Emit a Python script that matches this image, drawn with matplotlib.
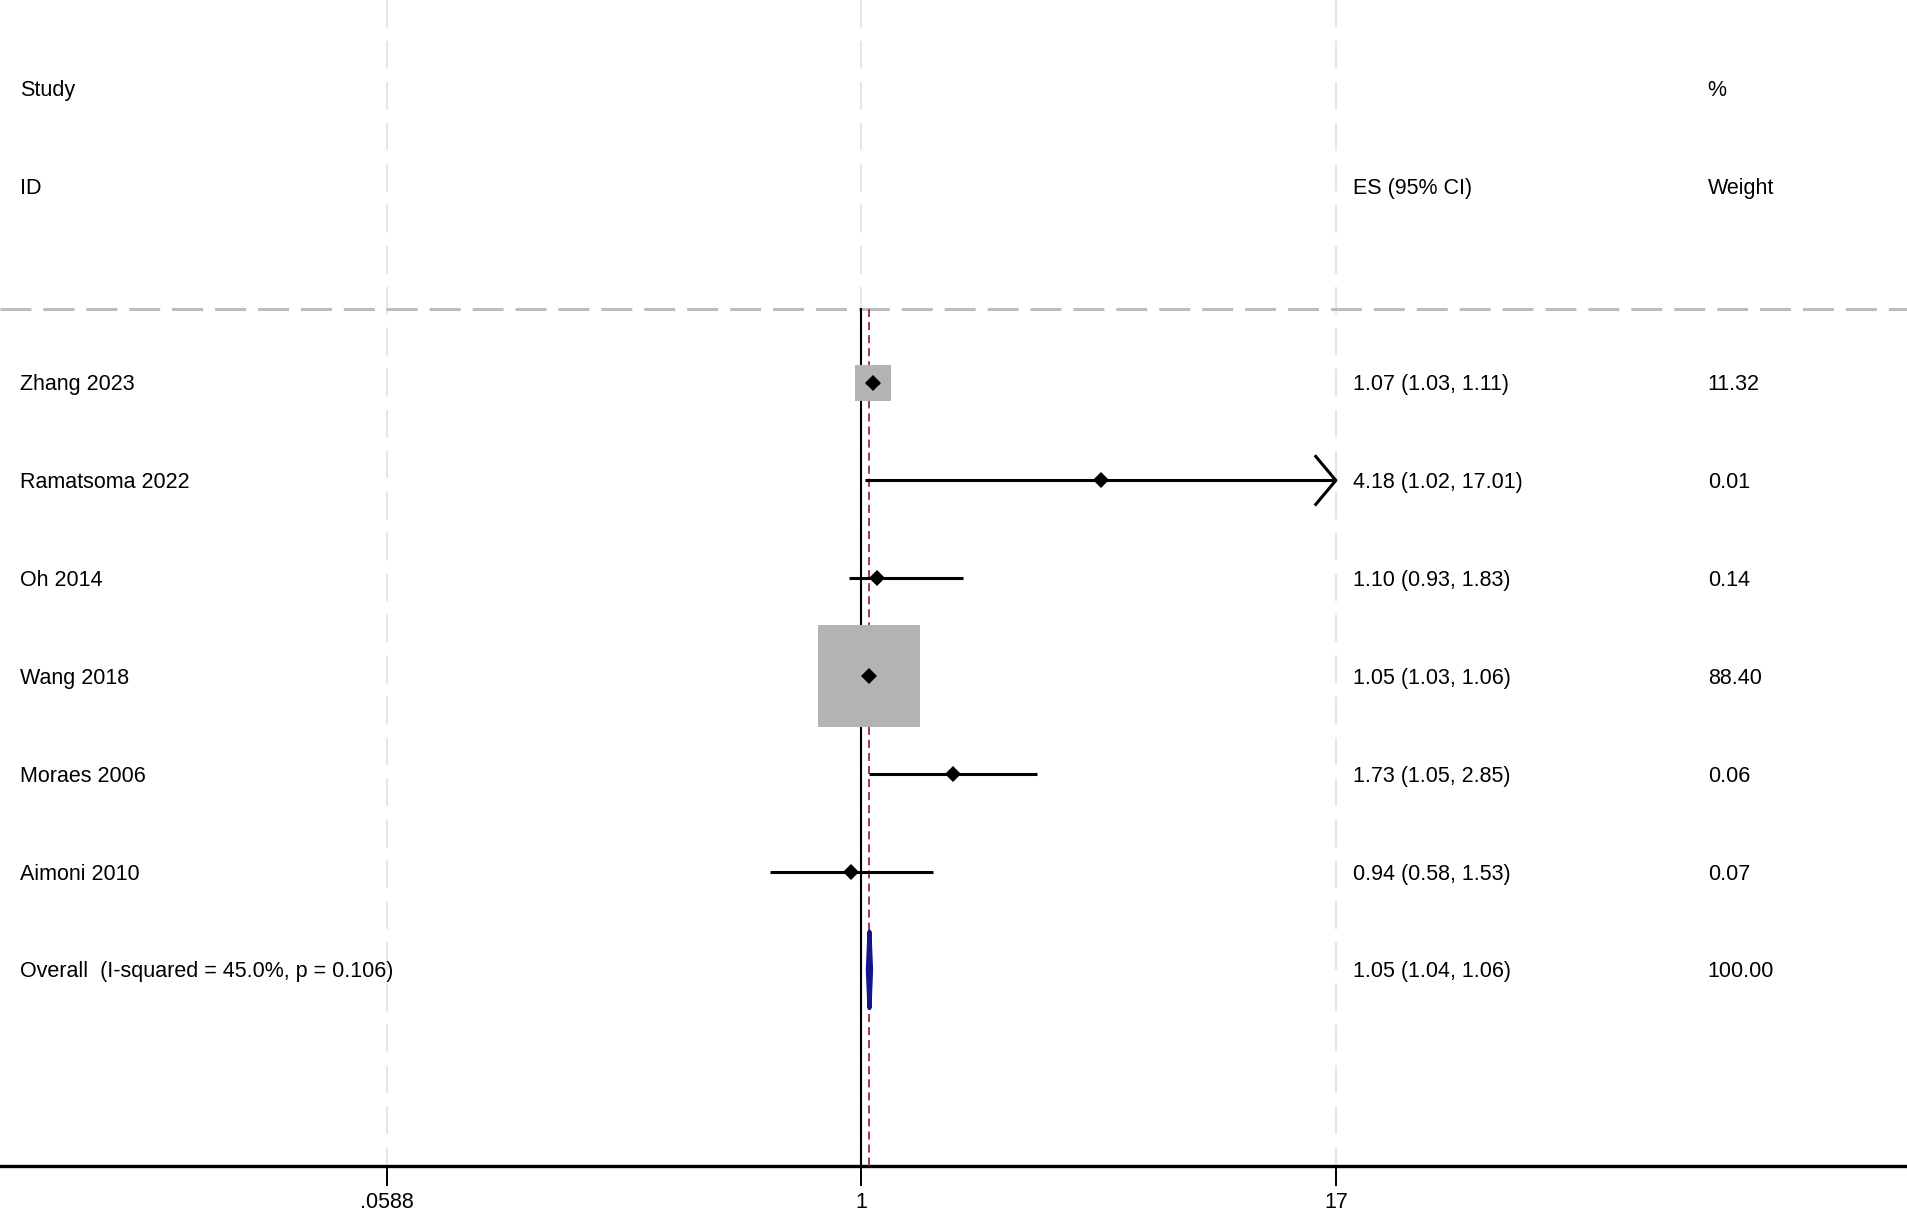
import numpy as np
import matplotlib.pyplot as plt
from matplotlib.ticker import FixedLocator, NullLocator

# --- Data ---
studies = ['Zhang 2023', 'Ramatsoma 2022', 'Oh 2014', 'Wang 2018', 'Moraes 2006', 'Aimoni 2010']
es = [1.07, 4.18, 1.10, 1.05, 1.73, 0.94]
ci_low = [1.03, 1.02, 0.93, 1.03, 1.05, 0.58]
ci_high = [1.11, 17.01, 1.83, 1.06, 2.85, 1.53]
weights = [11.32, 0.01, 0.14, 88.40, 0.06, 0.07]

overall_es, overall_lo, overall_hi = 1.05, 1.04, 1.06
overall_weight = 100.00
overall_label = 'Overall  (I-squared = 45.0%, p = 0.106)'

tick_values = [0.0588, 1, 17]
tick_labels = ['.0588', '1', '17']

# --- Style ---
plt.rcParams['font.family'] = ['Liberation Sans', 'DejaVu Sans']
plt.rcParams['lines.scale_dashes'] = False
fs = 15.5
cap = 0.077          # half cap-height in row units (baseline offset)
col_id, col_es, col_wt = 0.0105, 0.709, 0.895

fig = plt.figure(figsize=(19.08, 12.14), dpi=100)
ax = fig.add_axes([0, 0, 1, 1])
ax.set_xscale('log')
ax.set_xlim(np.exp(-5.142), np.exp(6.249))
ax.set_ylim(8.493, -3.907)
axis_row = 8.0
line_row = -0.75
top = -3.907

# light dashed grid at the tick values
for t in tick_values:
    ax.plot([t, t], [top, axis_row], color='#e6e6e6', lw=1.5, dashes=(20, 9.5), zorder=1)

# header separator
ax.plot(ax.get_xlim(), [line_row, line_row], color='#bdbdbd', lw=2.2, dashes=(22.3, 8.6), zorder=2)

# null line and overall line
ax.plot([1, 1], [line_row, axis_row], color='black', lw=1.5, zorder=3)
ax.plot([overall_es, overall_es], [line_row, axis_row], color='#9e3c4c', lw=1.4,
        dashes=(5.8, 3.6), zorder=3)

# study rows
clip = 17
tr = ax.get_yaxis_transform()
for i, name in enumerate(studies):
    ax.plot(es[i], i, marker='s', ms=7.75 * np.sqrt(weights[i]), color='#b3b3b3',
            mew=0, zorder=4)
    hi = min(ci_high[i], clip)
    ax.plot([ci_low[i], hi], [i, i], color='black', lw=2.2, zorder=5, solid_capstyle='butt')
    if ci_high[i] > clip:
        ax.plot([clip * np.exp(-0.12), clip, clip * np.exp(-0.12)], [i - 0.245, i, i + 0.245],
                color='black', lw=2.2, zorder=5)
    ax.plot(es[i], i, marker='D', ms=8, color='black', mew=0, zorder=6)
    ax.text(col_id, i + cap, name, transform=tr, fontsize=fs, va='baseline')
    ax.text(col_es, i + cap, '%.2f (%.2f, %.2f)' % (es[i], ci_low[i], ci_high[i]),
            transform=tr, fontsize=fs, va='baseline')
    ax.text(col_wt, i + cap, '%.2f' % weights[i], transform=tr, fontsize=fs, va='baseline')

# overall diamond
r = len(studies)
ax.fill([overall_lo, overall_es, overall_hi, overall_es], [r, r - 0.39, r, r + 0.39],
        facecolor='#14148c', edgecolor='#14148c', lw=3.0, joinstyle='round', zorder=6)
ax.text(col_id, r + cap, overall_label, transform=tr, fontsize=fs, va='baseline')
ax.text(col_es, r + cap, '%.2f (%.2f, %.2f)' % (overall_es, overall_lo, overall_hi),
        transform=tr, fontsize=fs, va='baseline')
ax.text(col_wt, r + cap, '%.2f' % overall_weight, transform=tr, fontsize=fs, va='baseline')

# headers
ax.text(col_id, -3 + cap, 'Study', transform=tr, fontsize=fs, va='baseline')
ax.text(col_id, -2 + cap, 'ID', transform=tr, fontsize=fs, va='baseline')
ax.text(col_es, -2 + cap, 'ES (95% CI)', transform=tr, fontsize=fs, va='baseline')
ax.text(col_wt, -3 + cap, '%', transform=tr, fontsize=fs, va='baseline')
ax.text(col_wt, -2 + cap, 'Weight', transform=tr, fontsize=fs, va='baseline')

# x axis
for s in ['top', 'left', 'right']:
    ax.spines[s].set_visible(False)
ax.spines['bottom'].set_position(('data', axis_row))
ax.spines['bottom'].set_linewidth(2.4)
ax.xaxis.set_major_locator(FixedLocator(tick_values))
ax.xaxis.set_minor_locator(NullLocator())
ax.set_xticklabels(tick_labels)
ax.tick_params(axis='x', direction='out', length=14.4, width=1.4, pad=4.5, labelsize=fs)
ax.set_yticks([])

fig.savefig('out.png')
